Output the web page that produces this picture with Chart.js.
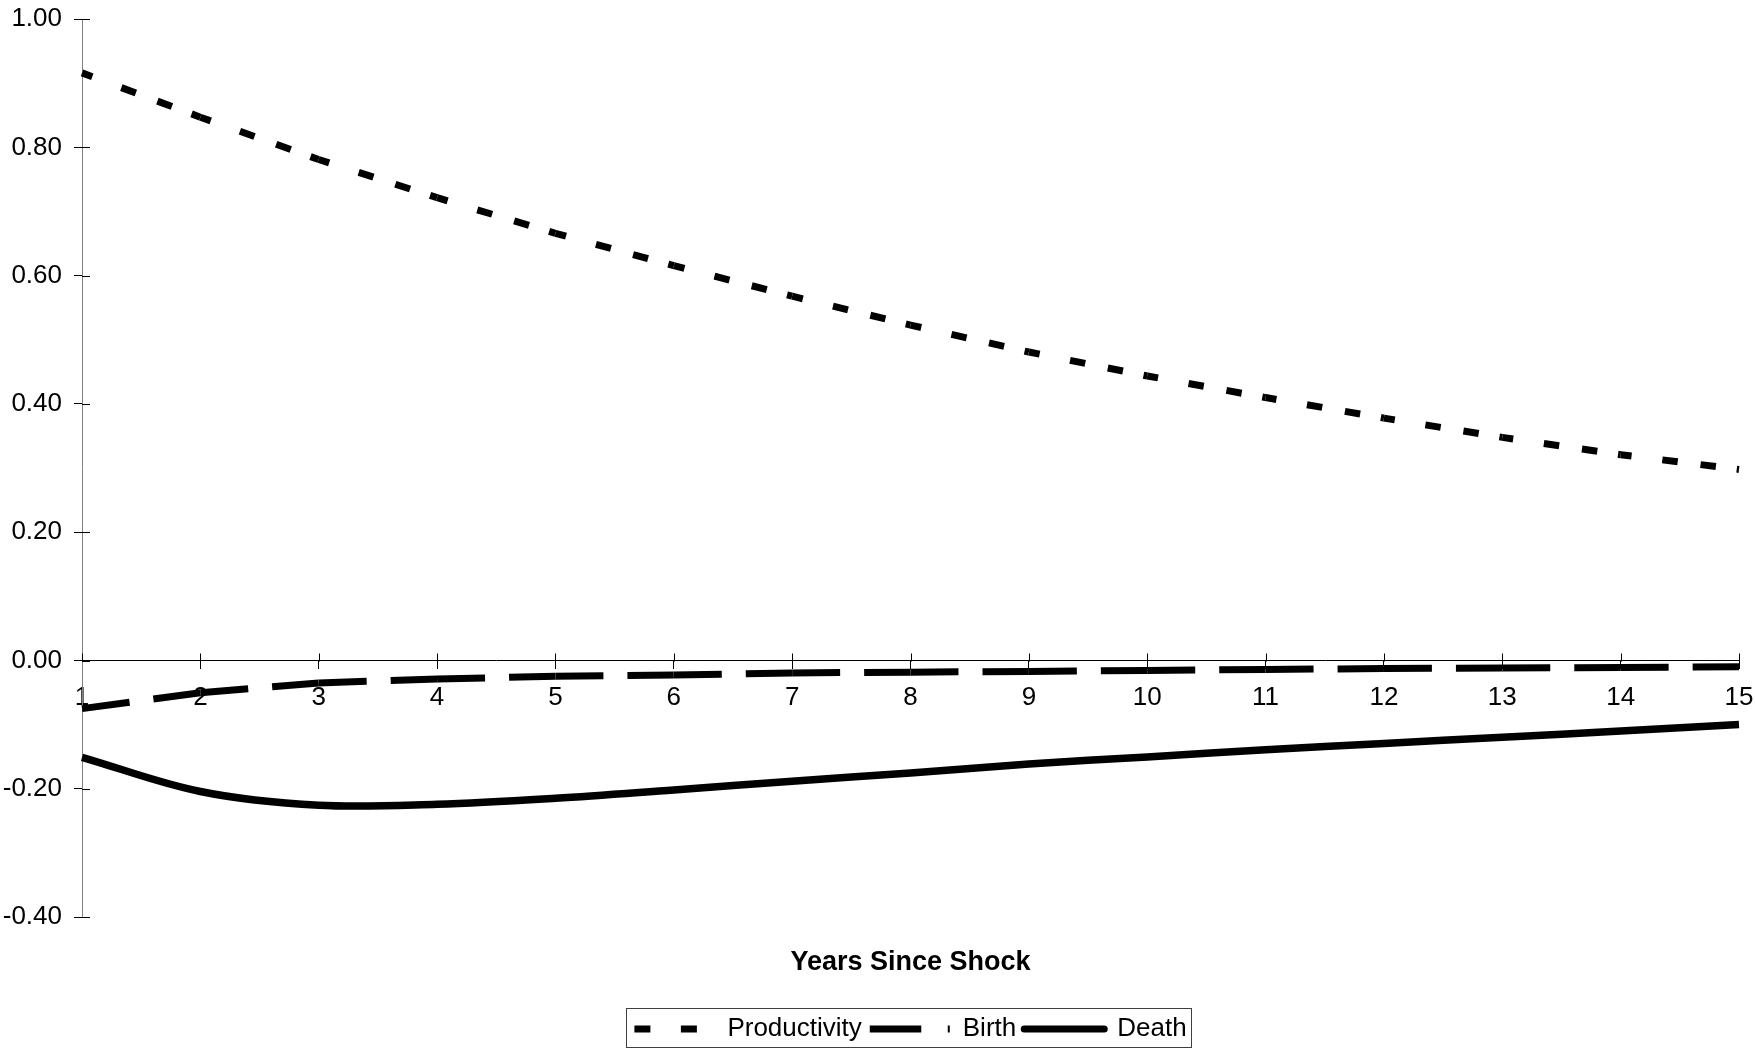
<!DOCTYPE html>
<html>
<head>
<meta charset="utf-8">
<title>Years Since Shock</title>
<script src="https://cdn.jsdelivr.net/npm/chart.js@4/dist/chart.umd.min.js"></script>
<style>
  html, body { margin: 0; padding: 0; background: #ffffff; }
  #wrap { width: 1755px; height: 1048px; overflow: hidden; }
  canvas { display: block; }
</style>
</head>
<body>
<div id="wrap"><canvas id="chart" width="1755" height="1048"></canvas></div>
<script>
// ---- data -------------------------------------------------------------
const years = ['1', '2', '3', '4', '5', '6', '7', '8', '9', '10', '11', '12', '13', '14', '15'];
const seriesNames = ['Productivity', 'Birth', 'Death'];
const productivity = [0.916, 0.847, 0.781, 0.7215, 0.666, 0.6156, 0.568, 0.523, 0.481, 0.4437, 0.410, 0.378, 0.348, 0.321, 0.298];
const birth = [-0.0748, -0.0499, -0.0348, -0.0285, -0.0245, -0.0223, -0.0192, -0.0179, -0.0168, -0.0153, -0.0137, -0.0124, -0.0115, -0.0106, -0.0095];
const death = [-0.1506, -0.2040, -0.2254, -0.2238, -0.2145, -0.2015, -0.1880, -0.1750, -0.1612, -0.1500, -0.1390, -0.1290, -0.1195, -0.1095, -0.0995];
const yTickValues = [-0.4, -0.2, 0, 0.2, 0.4, 0.6, 0.8, 1.0];
const xAxisTitle = 'Years Since Shock';

// ---- styling ----------------------------------------------------------
const FONT = '"Liberation Sans", Arial, Helvetica, sans-serif';
Chart.defaults.font.family = FONT;
Chart.defaults.font.size = 26;
Chart.defaults.color = '#000';

const lineDashes = [
  [11, 31, 15.5, 23, 15.5, 21, 15.5, 60],  // short dashes
  [48, 24],                                // long dashes
  []                                       // solid
];
const legendDashes = [[16, 30.5], [51.5, 26.5, 2, 100], []];
const legendCaps = ['butt', 'butt', 'round'];

// A negligible alternating dash offset makes every year-to-year segment a
// separate stroke, so the dash pattern starts over at each year.
const restartDash = { borderDashOffset: ctx => (ctx.p0DataIndex % 2) * 0.001 };

// Tick marks that cross the axis lines (the library only draws the outer half).
const crossTicks = {
  id: 'crossTicks',
  beforeDatasetsDraw(chart) {
    const { ctx, chartArea, scales } = chart;
    const xs = scales.x, ys = scales.y;
    const y0 = Math.round(ys.getPixelForValue(0)) + 0.5;
    ctx.save();
    ctx.strokeStyle = '#000';
    ctx.lineWidth = 1;
    ctx.beginPath();
    ys.ticks.forEach((t, i) => {
      const py = Math.round(ys.getPixelForTick(i)) + 0.5;
      ctx.moveTo(chartArea.left, py);
      ctx.lineTo(chartArea.left + 8, py);
    });
    xs.ticks.forEach((t, i) => {
      const px = Math.round(xs.getPixelForTick(i)) + 0.5;
      ctx.moveTo(px, y0);
      ctx.lineTo(px, y0 - 8);
    });
    ctx.stroke();
    ctx.restore();
  }
};

// Thin frame around the legend row.
const legendFrame = {
  id: 'legendFrame',
  afterDraw(chart) {
    const lg = chart.legend;
    if (!lg || !lg.legendHitBoxes || !lg.legendHitBoxes.length) return;
    const hb = lg.legendHitBoxes;
    const first = hb[0], last = hb[hb.length - 1];
    const left = Math.round(first.left - 8) + 0.5;
    const right = Math.round(last.left + last.width + 4) + 0.5;
    const top = Math.round(lg.top) + 0.5;
    const bottom = Math.min(Math.round(lg.bottom), chart.height) - 0.5;
    const ctx = chart.ctx;
    ctx.save();
    ctx.strokeStyle = '#404040';
    ctx.lineWidth = 1;
    ctx.setLineDash([]);
    ctx.strokeRect(left, top, right - left, bottom - top);
    ctx.restore();
  }
};

const baseLine = {
  borderColor: '#000',
  backgroundColor: '#000',
  borderWidth: 7,
  borderCapStyle: 'butt',
  pointRadius: 0,
  pointHoverRadius: 0,
  fill: false
};

new Chart(document.getElementById('chart'), {
  type: 'line',
  data: {
    labels: years,
    datasets: [
      Object.assign({}, baseLine, { label: seriesNames[0], data: productivity, borderDash: lineDashes[0], tension: 0, segment: restartDash }),
      Object.assign({}, baseLine, { label: seriesNames[1], data: birth, borderDash: lineDashes[1], tension: 0, segment: restartDash }),
      Object.assign({}, baseLine, { label: seriesNames[2], data: death, borderDash: lineDashes[2], borderWidth: 7.5, tension: 0.35 })
    ]
  },
  options: {
    responsive: false,
    animation: false,
    devicePixelRatio: 1,
    events: [],
    layout: { padding: { top: 19, right: 16, bottom: -4, left: 0 } },
    plugins: {
      tooltip: { enabled: false },
      title: { display: false },
      legend: {
        display: true,
        position: 'bottom',
        fullSize: false,
        align: 'center',
        labels: {
          usePointStyle: true,
          pointStyle: 'line',
          pointStyleWidth: 80,
          padding: 8,
          color: '#000',
          font: { size: 26, family: FONT },
          generateLabels(chart) {
            const items = Chart.defaults.plugins.legend.labels.generateLabels(chart);
            items.forEach((it, i) => {
              it.lineDash = legendDashes[i];
              it.lineDashOffset = 0;
              it.lineCap = legendCaps[i];
              it.lineWidth = 7;
              it.strokeStyle = '#000';
              it.fillStyle = 'rgba(0,0,0,0)';
              it.pointStyle = 'line';
            });
            return items;
          }
        }
      }
    },
    scales: {
      x: {
        type: 'category',
        position: { y: 0 },
        offset: false,
        afterFit(scale) {
          scale.paddingLeft = 0;
          scale.paddingRight = 0;
        },
        grid: { drawOnChartArea: false, drawTicks: true, tickLength: 8, color: '#000', lineWidth: 1 },
        border: { display: true, color: '#000', width: 1 },
        ticks: { padding: 14, maxRotation: 0, minRotation: 0, autoSkip: false, color: '#000', font: { size: 26 } }
      },
      x2: {
        type: 'category',
        labels: years,
        position: 'bottom',
        display: true,
        grid: { display: false, drawTicks: false },
        border: { display: false },
        ticks: { display: false },
        title: {
          display: true,
          text: xAxisTitle,
          color: '#000',
          font: { size: 27, weight: 'bold', family: FONT },
          padding: { top: 29, bottom: 29.3 }
        }
      },
      y: {
        type: 'linear',
        position: 'left',
        min: -0.4,
        max: 1.0,
        afterBuildTicks(scale) { scale.ticks = yTickValues.map(v => ({ value: v })); },
        afterFit(scale) {
          scale.width = 82;
          scale.paddingTop = 0;
          scale.paddingBottom = 0;
        },
        grid: { drawOnChartArea: false, drawTicks: true, tickLength: 8, color: '#000', lineWidth: 1 },
        border: { display: true, color: '#808080', width: 1 },
        ticks: { padding: 12, color: '#000', font: { size: 26 }, callback: v => Number(v).toFixed(2) }
      }
    }
  },
  plugins: [crossTicks, legendFrame]
});
</script>
</body>
</html>
